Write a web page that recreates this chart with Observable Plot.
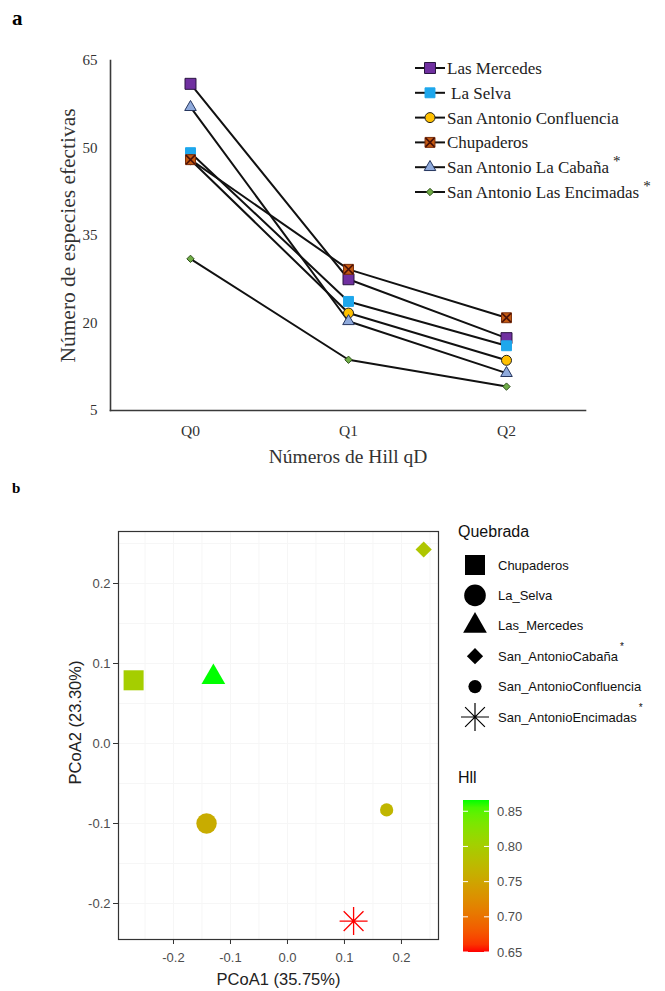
<!DOCTYPE html>
<html><head><meta charset="utf-8">
<script src="https://cdn.jsdelivr.net/npm/d3@7"></script>
<script src="https://cdn.jsdelivr.net/npm/@observablehq/plot@0.6"></script>
<style>
body{margin:0;background:#fff;}
#wrap{position:relative;width:665px;height:991px;overflow:hidden;background:#fff;}
#wrap > svg{position:absolute;left:0;}
</style></head><body><div id="wrap"></div>
<script>
// ---------- Panel a data ----------
const sitesA = ["Las Mercedes","La Selva","San Antonio Confluencia","Chupaderos","San Antonio La Cabaña","San Antonio Las Encimadas"];
const hillOrders = ["Q0","Q1","Q2"];
const lasMercedes = [61, 27.5, 17.4];
const laSelva = [49.2, 23.7, 16.1];
const confluencia = [48, 21.7, 13.6];
const chupaderos = [48, 29.2, 20.9];
const cabana = [57, 20.3, 11.4];
const encimadas = [31, 13.7, 9.1];
const yTicksA = [5, 20, 35, 50, 65];
const starredA = ["San Antonio La Cabaña","San Antonio Las Encimadas"];

// ---------- Panel b data ----------
const quebradas = ["Chupaderos","La_Selva","Las_Mercedes","San_AntonioCabaña","San_AntonioConfluencia","San_AntonioEncimadas"];
const pcoa1 = [-0.27, -0.142, -0.13, 0.239, 0.174, 0.116];
const pcoa2 = [0.079, -0.1, 0.083, 0.2425, -0.083, -0.222];
const hll = [0.80, 0.758, 0.866, 0.79, 0.77, 0.65];
const pcoaTicks = [-0.2, -0.1, 0.0, 0.1, 0.2];
const hllTicks = [0.65, 0.70, 0.75, 0.80, 0.85];
const starredB = ["San_AntonioCabaña","San_AntonioEncimadas"];

// ---------- styles ----------
const serif = "'Liberation Serif','Times New Roman',serif";
const sans = "'Liberation Sans',Arial,sans-serif";
const styleA = {
  "Las Mercedes": {symbol:"square", r:6.2, fill:"#7030a0", stroke:"#2a1540"},
  "La Selva": {symbol:"square", r:5.6, fill:"#1ea7ec", stroke:"#1ea7ec"},
  "San Antonio Confluencia": {symbol:"circle", r:5, fill:"#ffc000", stroke:"#222"},
  "Chupaderos": {symbol:"square", r:5.6, fill:"#c55a11", stroke:"#7a2e0c", cross:true},
  "San Antonio La Cabaña": {symbol:"triangle", r:4.3, fill:"#8faadc", stroke:"#26365e"},
  "San Antonio Las Encimadas": {symbol:"diamond2", r:3.3, fill:"#70ad47", stroke:"#2f4f1c"}
};
const asterisk = {
  draw(ctx, size) {
    const r = Math.sqrt(size / Math.PI), d = r * Math.SQRT1_2;
    ctx.moveTo(-r, 0); ctx.lineTo(r, 0);
    ctx.moveTo(0, -r); ctx.lineTo(0, r);
    ctx.moveTo(-d, -d); ctx.lineTo(d, d);
    ctx.moveTo(-d, d); ctx.lineTo(d, -d);
  }
};
const styleB = {
  "Chupaderos": {symbol:"square", r:11.3},
  "La_Selva": {symbol:"circle", r:10.2},
  "Las_Mercedes": {symbol:"triangle", r:8.8},
  "San_AntonioCabaña": {symbol:"diamond2", r:7.3},
  "San_AntonioConfluencia": {symbol:"circle", r:6.6},
  "San_AntonioEncimadas": {symbol:asterisk, r:14, stroke:true}
};

const wrap = document.getElementById("wrap");

// ---------- Panel a ----------
const seriesA = [lasMercedes, laSelva, confluencia, chupaderos, cabana, encimadas];
const rowsA = [];
sitesA.forEach((s, i) => hillOrders.forEach((q, j) => rowsA.push({site: s, q, v: seriesA[i][j]})));

const dotMarksA = [];
sitesA.forEach(s => {
  const st = styleA[s];
  dotMarksA.push(Plot.dot(rowsA, {filter: d => d.site === s, x: "q", y: "v", symbol: st.symbol, r: st.r, fill: st.fill, stroke: st.stroke, strokeWidth: 1}));
  if (st.cross) dotMarksA.push(Plot.dot(rowsA, {filter: d => d.site === s, x: "q", y: "v", symbol: "times", r: 4.2, stroke: "#4a1208", strokeWidth: 1.6}));
});

const yTitleA = "Número de especies efectivas";
const plotA = Plot.plot({
  width: 665, height: 480,
  marginLeft: 110, marginRight: 80, marginTop: 60, marginBottom: 70,
  style: {fontFamily: serif, fontSize: "15px", color: "#333", background: "transparent", overflow: "visible"},
  x: {type: "point", domain: hillOrders, padding: 0.5},
  y: {domain: [5, 65]},
  marks: [
    Plot.axisY({ticks: yTicksA, tickSize: 0, tickPadding: 13, fontSize: 15, label: null}),
    Plot.axisX({tickSize: 0, tickPadding: 14, fontSize: 15.5, label: null}),
    Plot.frame({anchor: "left", stroke: "#3a3a3a", strokeWidth: 1.6}),
    Plot.frame({anchor: "bottom", stroke: "#3a3a3a", strokeWidth: 1.6}),
    Plot.line(rowsA, {x: "q", y: "v", z: "site", stroke: "#111", strokeWidth: 2}),
    ...dotMarksA,
    Plot.text([yTitleA], {frameAnchor: "left", textAnchor: "middle", lineAnchor: "middle", dx: -42, rotate: -90, fontSize: 20, fill: "#333"}),
    Plot.text(["Números de Hill qD"], {frameAnchor: "bottom", textAnchor: "middle", lineAnchor: "middle", dy: 46, fontSize: 19.5, fill: "#333"})
  ]
});
plotA.style.top = "0px";
d3.select(plotA).selectAll("text").filter(function() { return this.textContent === yTitleA; })
  .attr("textLength", 254).attr("lengthAdjust", "spacingAndGlyphs");
wrap.appendChild(plotA);

// ---------- Panel b ----------
const rowsB = quebradas.map((q, i) => ({q, x: pcoa1[i], y: pcoa2[i], hll: hll[i]}));
const colorCfg = {type: "linear", domain: [0.65, 0.866], range: ["#ff0000", "#00ff00"], interpolate: d3.interpolateLab};
const dotMarksB = quebradas.map(q => {
  const st = styleB[q];
  return st.stroke
    ? Plot.dot(rowsB, {filter: d => d.q === q, x: "x", y: "y", symbol: st.symbol, r: st.r, stroke: "hll", strokeWidth: 1.3})
    : Plot.dot(rowsB, {filter: d => d.q === q, x: "x", y: "y", symbol: st.symbol, r: st.r, fill: "hll", stroke: "none"});
});
const gridX = d3.range(-0.25, 0.26, 0.05);
const gridY = d3.range(-0.2, 0.26, 0.05);
const plotB = Plot.plot({
  width: 665, height: 511,
  marginLeft: 118, marginRight: 227, marginTop: 51, marginBottom: 52,
  style: {fontFamily: sans, background: "transparent", overflow: "visible"},
  x: {domain: [-0.2965, 0.265]},
  y: {domain: [-0.245, 0.265]},
  color: colorCfg,
  marks: [
    Plot.ruleX(gridX, {stroke: "#f6f6f6"}),
    Plot.ruleY(gridY, {stroke: "#f6f6f6"}),
    Plot.frame({stroke: "#333", strokeWidth: 1.2}),
    Plot.axisX({ticks: pcoaTicks, tickFormat: d => d.toFixed(1), tickSize: 5, tickPadding: 8, fontSize: 13, color: "#4d4d4d", stroke: "#333", label: null}),
    Plot.axisY({ticks: pcoaTicks, tickFormat: d => d.toFixed(1), tickSize: 5, tickPadding: 3, fontSize: 13, color: "#4d4d4d", stroke: "#333", label: null}),
    ...dotMarksB,
    Plot.text(["PCoA1 (35.75%)"], {frameAnchor: "bottom", textAnchor: "middle", lineAnchor: "middle", dy: 40, fontSize: 16.5, fill: "#222"}),
    Plot.text(["PCoA2 (23.30%)"], {frameAnchor: "left", textAnchor: "middle", lineAnchor: "middle", dx: -43, dy: -13, rotate: -90, fontSize: 16.5, fill: "#222"})
  ]
});
plotB.style.top = "480px";
wrap.appendChild(plotB);

// ---------- Overlay: panel labels and legends ----------
const svg = d3.select(wrap).append("svg").attr("width", 665).attr("height", 991).style("top", "0px");

svg.append("text").attr("x", 12).attr("y", 25).attr("font-family", serif).attr("font-weight", "bold").attr("font-size", 21).text("a");
svg.append("text").attr("x", 12).attr("y", 493).attr("font-family", serif).attr("font-weight", "bold").attr("font-size", 15).text("b");

// Legend a
const legA = svg.append("g").attr("font-family", serif).attr("font-size", 17).attr("fill", "#222");
sitesA.forEach((s, i) => {
  const y = 68 + i * 24.8;
  const st = styleA[s];
  legA.append("line").attr("x1", 415).attr("x2", 445).attr("y1", y).attr("y2", y).attr("stroke", "#111").attr("stroke-width", 2);
  const symType = {square: d3.symbolSquare, circle: d3.symbolCircle, triangle: d3.symbolTriangle, diamond2: d3.symbolDiamond2}[st.symbol];
  legA.append("path").attr("d", d3.symbol(symType, st.r * st.r * Math.PI)()).attr("transform", `translate(430,${y})`).attr("fill", st.fill).attr("stroke", st.stroke);
  if (st.cross) legA.append("path").attr("d", d3.symbol(d3.symbolTimes, 4.2 * 4.2 * Math.PI)()).attr("transform", `translate(430,${y})`).attr("fill", "none").attr("stroke", "#4a1208").attr("stroke-width", 1.6);
  const t = legA.append("text").attr("x", s === "La Selva" ? 451 : 447).attr("y", y).attr("dy", "0.35em").text(s);
  if (starredA.includes(s)) t.append("tspan").attr("dx", 4).attr("dy", "-0.45em").attr("font-size", 15).text("*");
});

// Legend b
const legB = svg.append("g").attr("font-family", sans).attr("fill", "#111");
legB.append("text").attr("x", 458).attr("y", 531).attr("dy", "0.35em").attr("font-size", 16).text("Quebrada");
quebradas.forEach((q, i) => {
  const y = 565 + i * 30.4;
  const st = styleB[q];
  const symType = st.symbol === "square" ? d3.symbolSquare : st.symbol === "circle" ? d3.symbolCircle : st.symbol === "triangle" ? d3.symbolTriangle : st.symbol === "diamond2" ? d3.symbolDiamond2 : st.symbol;
  const rr = q === "La_Selva" ? 10.8 : st.r;
  legB.append("path").attr("d", d3.symbol(symType, rr * rr * Math.PI)()).attr("transform", `translate(475,${y})`)
    .attr("fill", st.stroke ? "none" : "#000").attr("stroke", st.stroke ? "#000" : "none").attr("stroke-width", 1.2);
  const t = legB.append("text").attr("x", 498).attr("y", y).attr("dy", "0.35em").attr("font-size", 13).text(q);
  if (starredB.includes(q)) t.append("tspan").attr("dx", 2).attr("dy", "-1.05em").attr("font-size", 10).text("*");
});

// Colorbar
const cScale = d3.scaleLinear().domain(colorCfg.domain).range(colorCfg.range).interpolate(d3.interpolateLab);
const barX = 463, barW = 26, barTop = 800, barBot = 952;
const yBar = d3.scaleLinear().domain(colorCfg.domain).range([barBot, barTop]);
const grad = svg.append("defs").append("linearGradient").attr("id", "hllgrad").attr("x1", 0).attr("x2", 0).attr("y1", 1).attr("y2", 0);
d3.range(0, 1.0001, 0.05).forEach(t => grad.append("stop").attr("offset", t).attr("stop-color", cScale(colorCfg.domain[0] + t * (colorCfg.domain[1] - colorCfg.domain[0]))));
svg.append("text").attr("x", 458).attr("y", 777).attr("dy", "0.35em").attr("font-family", sans).attr("font-size", 16).attr("fill", "#111").text("Hll");
svg.append("rect").attr("x", barX).attr("y", barTop).attr("width", barW).attr("height", barBot - barTop).attr("fill", "url(#hllgrad)");
hllTicks.forEach(v => {
  const y = yBar(v);
  svg.append("line").attr("x1", barX).attr("x2", barX + 5).attr("y1", y).attr("y2", y).attr("stroke", "#fff").attr("stroke-width", 1);
  svg.append("line").attr("x1", barX + barW - 5).attr("x2", barX + barW).attr("y1", y).attr("y2", y).attr("stroke", "#fff").attr("stroke-width", 1);
  svg.append("text").attr("x", 497).attr("y", y).attr("dy", "0.35em").attr("font-family", sans).attr("font-size", 13).attr("fill", "#4d4d4d").text(v.toFixed(2));
});
</script></body></html>
